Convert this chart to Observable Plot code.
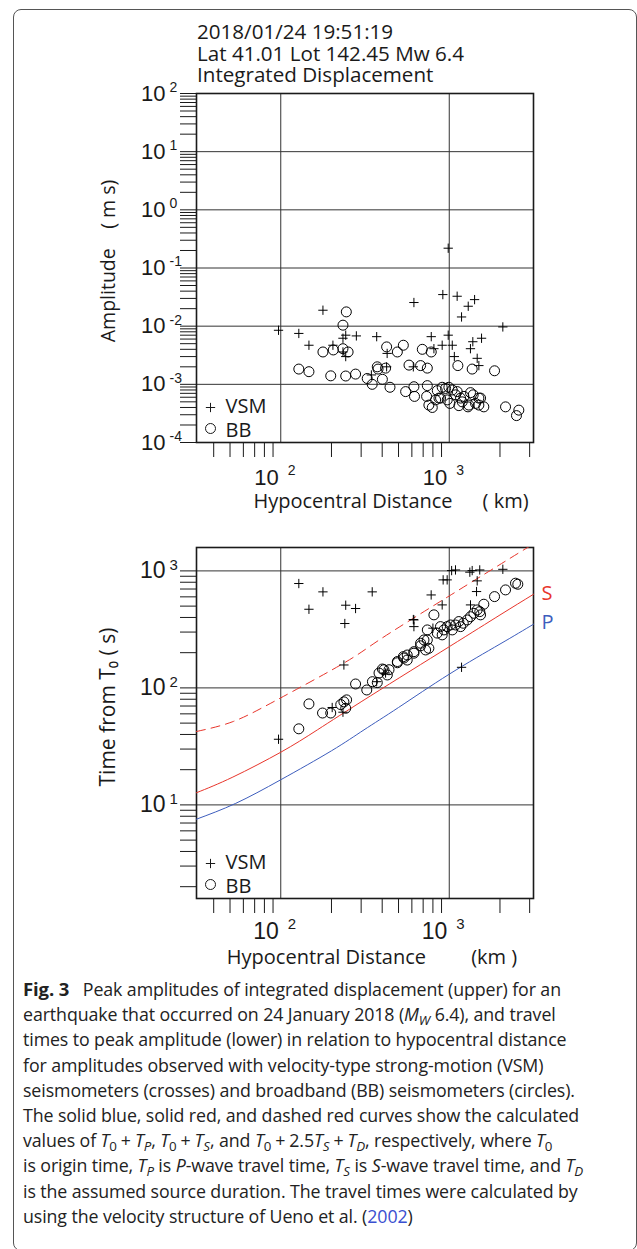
<!DOCTYPE html>
<html><head><meta charset="utf-8">
<script src="https://cdn.jsdelivr.net/npm/d3@7"></script>
<script src="https://cdn.jsdelivr.net/npm/@observablehq/plot@0.6"></script>
<style>
body{margin:0;width:637px;height:1249px;position:relative;background:#fff;overflow:hidden;font-family:"Open Sans",sans-serif;color:#1a1a1a;}
#border{position:absolute;left:13px;top:9px;width:624px;height:1242px;border:1.5px solid #555;border-radius:8px;box-sizing:border-box;}
#title{position:absolute;left:197px;top:21px;font-size:20.6px;line-height:21.5px;white-space:nowrap;}
#topPanel{position:absolute;left:0;top:80px;}
#botPanel{position:absolute;left:0;top:530px;}
#caption{position:absolute;left:23px;top:976px;font-size:17.8px;line-height:25.2px;white-space:nowrap;letter-spacing:-0.1px;color:#222;}
#caption sub{font-size:0.75em;vertical-align:baseline;position:relative;top:0.28em;line-height:0;}
#caption b{font-weight:700;font-size:18.5px;margin-right:9px;}
#caption .op{margin:0 4px;}
</style></head>
<body>
<div id="border"></div>
<div id="title"><div>2018/01/24 19:51:19</div><div>Lat 41.01 Lot 142.45 Mw 6.4</div><div>Integrated Displacement</div></div>
<div id="topPanel"></div>
<div id="botPanel"></div>
<div id="caption">
<div><b>Fig. 3</b> Peak amplitudes of integrated displacement (upper) for an</div>
<div>earthquake that occurred on 24 January 2018 (<i>M<sub>W</sub></i> 6.4), and travel</div>
<div>times to peak amplitude (lower) in relation to hypocentral distance</div>
<div>for amplitudes observed with velocity-type strong-motion (VSM)</div>
<div>seismometers (crosses) and broadband (BB) seismometers (circles).</div>
<div>The solid blue, solid red, and dashed red curves show the calculated</div>
<div>values of <i>T</i><sub>0</sub><span class="op">+</span><i>T<sub>P</sub></i>, <i>T</i><sub>0</sub><span class="op">+</span><i>T<sub>S</sub></i>, and <i>T</i><sub>0</sub><span class="op">+</span>2.5<i>T<sub>S</sub></i><span class="op">+</span><i>T<sub>D</sub></i>, respectively, where <i>T</i><sub>0</sub></div>
<div>is origin time, <i>T<sub>P</sub></i> is <i>P</i>-wave travel time, <i>T<sub>S</sub></i> is <i>S</i>-wave travel time, and <i>T<sub>D</sub></i></div>
<div>is the assumed source duration. The travel times were calculated by</div>
<div>using the velocity structure of Ueno et al. (<span style="color:#3a4fd0">2002</span>)</div>
</div>
<script>
// ---------- data: upper panel (peak amplitude, m s) ----------
const vsmAmpDist = [97,128,147,178,204,234,243,234,243,281,371,428,425,345,617,612,782,811,908,916,986,986,1042,1072,1114,1183,1296,1414,1336,1380,1465,1499,1555,2080];
const vsmAmp     = [0.0085,0.0075,0.0047,0.0188,0.0047,0.0062,0.0070,0.0036,0.0030,0.0068,0.0066,0.0034,0.0020,0.00145,0.0255,0.0020,0.0066,0.0041,0.0047,0.0349,0.0070,0.219,0.0047,0.0030,0.0327,0.0144,0.022,0.0286,0.0041,0.0054,0.0028,0.0021,0.0062,0.0097];
const bbAmpDist = [128,147,178,198,205,234,245,234,251,243,278,326,349,374,378,401,425,419,445,492,534,551,577,617,622,676,692,741,741,734,757,782,793,830,869,849,888,908,951,995,973,1009,1042,1115,1091,1125,1141,1167,1194,1222,1291,1307,1337,1368,1387,1432,1499,1534,1499,1604,1857,2158,2506,2588];
const bbAmp     = [0.00183,0.00165,0.0036,0.0014,0.0039,0.0104,0.0176,0.0041,0.0036,0.00139,0.0015,0.00126,0.0010,0.0020,0.00183,0.00122,0.0044,0.0019,0.00089,0.0036,0.0047,0.00075,0.00214,0.00091,0.00062,0.0021,0.0040,0.0019,0.00095,0.00062,0.00044,0.0036,0.00040,0.00054,0.00058,0.00078,0.00058,0.00089,0.00085,0.00089,0.00054,0.00047,0.0008,0.00075,0.00066,0.0021,0.00043,0.00058,0.0005,0.00062,0.00041,0.00044,0.00072,0.00183,0.00066,0.00047,0.00058,0.00058,0.00044,0.00041,0.00171,0.00041,0.00029,0.00036];

// ---------- data: lower panel (time from T0, s) ----------
const vsmTimeDist = [97,128,147,178,243,278,240,237,234,202,349,371,419,612,617,617,781,800,908,920,972,1033,1089,1325,1368,1517,2080,1465,1452,1337,1183];
const vsmTime     = [36.4,780,470,662,509,477,355,157,62,68,662,113,134,384,381,334,623,324,512,838,838,1006,1019,975,1006,1019,1032,822,666,512,150];
const bbTimeDist = [128,147,177,198,227,237,246,243,278,324,350,374,383,410,429,439,401,492,492,534,538,563,563,617,617,676,676,708,724,741,741,757,811,849,887,908,930,972,1018,1042,1089,1140,1167,1211,1279,1337,1400,1465,1518,1534,1604,1857,2158,2473,2552];
const bbTime     = [44.7,73,61,61,72,76,79,67,108,96,113,111,134,143,129,143,145,164,168,185,180,173,191,198,204,229,241,257,211,257,313,218,421,294,334,284,313,334,345,313,345,369,334,357,381,406,434,464,449,421,519,603,688,785,769];

// calculated curves
const pDist = [31.6,54,100,200,312,500,1000,2000,3162];
const pTime = [7.55,10.3,16.4,29,43.8,68,131,237,350];
const sDist = [31.6,52,100,165,341,1000,2000,3162];
const sTime = [12.7,17.3,28.2,43.8,85.5,225,420,631];
const dDist = [31.6,52,95,237,392,1000,2300,3162];
const dTime = [42.4,51.5,79,163,262,611,1284,1700];

// ---------- ticks ----------
const xMajor = [100,1000];
const xExp = ["2","3"];
const xMinor = [40,50,60,70,80,90,200,300,400,500,600,700,800,900,2000,3000];
const topYMajor = [1e-4,1e-3,1e-2,1e-1,1,10,100];
const topYExp = ["-4","-3","-2","-1","0","1","2"];
const botYMajor = [10,100,1000];
const botYExp = ["1","2","3"];
const mult = [2,3,4,5,6,7,8,9];
const topYTicks = topYMajor.concat(topYMajor.slice(0,-1).flatMap(d => mult.map(m => d*m)));
const botYTicks = botYMajor.concat([1,10,100].flatMap(d => mult.map(m => d*m))).filter(v => v >= 1.6 && v <= 1580);

const vsmAmpData = vsmAmpDist.map((d,i)=>({d, v: vsmAmp[i]}));
const bbAmpData = bbAmpDist.map((d,i)=>({d, v: bbAmp[i]}));
const vsmTimeData = vsmTimeDist.map((d,i)=>({d, v: vsmTime[i]}));
const bbTimeData = bbTimeDist.map((d,i)=>({d, v: bbTime[i]}));
const pData = pDist.map((d,i)=>({d, v: pTime[i]}));
const sData = sDist.map((d,i)=>({d, v: sTime[i]}));
const dData = dDist.map((d,i)=>({d, v: dTime[i]}));

const RED = "#e8352b", BLUE = "#3d5dbd", INK = "#1a1a1a";
const numFont = "Liberation Sans, Arial, sans-serif";
const txtFont = "Open Sans, sans-serif";
const PLUS_R = 3.1; // d3 stroke plus: half-arm ≈ 4.6px

function common(yMajor, yExp, yTicks, numSize, expSize, xdy, xedy){
  return [
    Plot.ruleX(xMajor, {stroke:"#333", strokeWidth:1}),
    Plot.ruleY(yMajor, {stroke:"#333", strokeWidth:1}),
    Plot.axisY({ticks: yTicks, tickSize: 16, tickFormat: () => "", label: null, stroke: INK, strokeWidth: 1}),
    Plot.axisX({ticks: xMinor, tickSize: 15, tickFormat: () => "", label: null, stroke: INK, strokeWidth: 1}),
    Plot.frame({stroke: INK, strokeWidth: 1.6}),
    Plot.text(yMajor, {y: d => d, frameAnchor: "left", lineAnchor: "middle", text: () => "10", dx: -31, textAnchor: "end", fontSize: numSize, fontFamily: numFont, fill: INK}),
    Plot.text(yMajor, {y: d => d, frameAnchor: "left", lineAnchor: "middle", text: (d,i) => yExp[i], dx: -27, dy: -6, textAnchor: "start", fontSize: expSize, fontFamily: numFont, fill: INK}),
    Plot.text(xMajor, {x: d => d, frameAnchor: "bottom", lineAnchor: "middle", text: () => "10", dx: -2, dy: xdy, textAnchor: "end", fontSize: numSize, fontFamily: numFont, fill: INK}),
    Plot.text(xMajor, {x: d => d, frameAnchor: "bottom", lineAnchor: "middle", text: (d,i) => xExp[i], dx: 7, dy: xedy, textAnchor: "start", fontSize: expSize, fontFamily: numFont, fill: INK}),
  ];
}
function legend(){
  return [
    Plot.dot([0], {frameAnchor: "bottom-left", dx: 14, dy: -35, symbol: "plus", r: PLUS_R, stroke: INK, strokeWidth: 1}),
    Plot.dot([0], {frameAnchor: "bottom-left", dx: 14, dy: -14, symbol: "circle", r: 5, stroke: INK, fill: "none", strokeWidth: 1}),
    Plot.text(["VSM"], {frameAnchor: "bottom-left", lineAnchor: "middle", dx: 29, dy: -36, textAnchor: "start", fontSize: 20, fontFamily: txtFont, fill: INK}),
    Plot.text(["BB"], {frameAnchor: "bottom-left", lineAnchor: "middle", dx: 29, dy: -12, textAnchor: "start", fontSize: 20, fontFamily: txtFont, fill: INK}),
  ];
}

const topPlot = Plot.plot({
  width: 637, height: 440,
  marginTop: 13, marginBottom: 78, marginLeft: 196, marginRight: 104,
  x: {type: "log", domain: [10**1.5, 10**3.5]},
  y: {type: "log", domain: [1e-4, 1e2]},
  style: {background: "transparent", overflow: "visible", color: INK},
  marks: [
    ...common(topYMajor, topYExp, topYTicks, 22, 14, 35, 28),
    Plot.dot(vsmAmpData, {x: "d", y: "v", symbol: "plus", r: PLUS_R, stroke: "#000", strokeWidth: 1}),
    Plot.dot(bbAmpData, {x: "d", y: "v", symbol: "circle", r: 5, stroke: "#000", fill: "none", strokeWidth: 1}),
    ...legend(),
    Plot.text(["Amplitude\u2003( m s)"], {frameAnchor: "left", textAnchor: "middle", lineAnchor: "middle", rotate: -90, dx: -88, dy: -7, fontSize: 19.5, fontFamily: txtFont, fill: INK}),
    Plot.text(["Hypocentral Distance\u2003\u2002( km)"], {frameAnchor: "bottom", textAnchor: "middle", lineAnchor: "middle", dx: 26, dy: 59, fontSize: 20, fontFamily: txtFont, fill: INK}),
  ]
});
document.getElementById("topPanel").appendChild(topPlot);

const botPlot = Plot.plot({
  width: 637, height: 450,
  marginTop: 17, marginBottom: 82, marginLeft: 196, marginRight: 104,
  x: {type: "log", domain: [10**1.5, 10**3.5]},
  y: {type: "log", domain: [10**0.2, 10**3.2]},
  style: {background: "transparent", overflow: "visible", color: INK},
  marks: [
    ...common(botYMajor, botYExp, botYTicks, 23, 15, 33, 26),
    Plot.line(dData, {x: "d", y: "v", stroke: RED, strokeWidth: 1, strokeDasharray: "9,6", curve: "natural", clip: true}),
    Plot.line(sData, {x: "d", y: "v", stroke: RED, strokeWidth: 1, curve: "natural"}),
    Plot.line(pData, {x: "d", y: "v", stroke: BLUE, strokeWidth: 1, curve: "natural"}),
    Plot.dot(vsmTimeData, {x: "d", y: "v", symbol: "plus", r: PLUS_R, stroke: "#000", strokeWidth: 1}),
    Plot.dot(bbTimeData, {x: "d", y: "v", symbol: "circle", r: 5, stroke: "#000", fill: "none", strokeWidth: 1}),
    Plot.text(sData.slice(-1), {x: "d", y: "v", text: () => "S", dx: 8, dy: -1, textAnchor: "start", fontSize: 20, fontFamily: txtFont, fill: RED}),
    Plot.text(pData.slice(-1), {x: "d", y: "v", text: () => "P", dx: 8, dy: -2, textAnchor: "start", fontSize: 20, fontFamily: txtFont, fill: BLUE}),
    ...legend(),
    Plot.text(["Time from T\u2080 ( s)"], {frameAnchor: "left", textAnchor: "middle", lineAnchor: "middle", rotate: -90, dx: -88, dy: -16, fontSize: 21, fontFamily: txtFont, fill: INK}),
    Plot.text(["Hypocentral Distance\u2003\u2003 (km )"], {frameAnchor: "bottom", textAnchor: "middle", lineAnchor: "middle", dx: 7, dy: 59, fontSize: 20, fontFamily: txtFont, fill: INK}),
  ]
});
document.getElementById("botPanel").appendChild(botPlot);
</script>
</body></html>
